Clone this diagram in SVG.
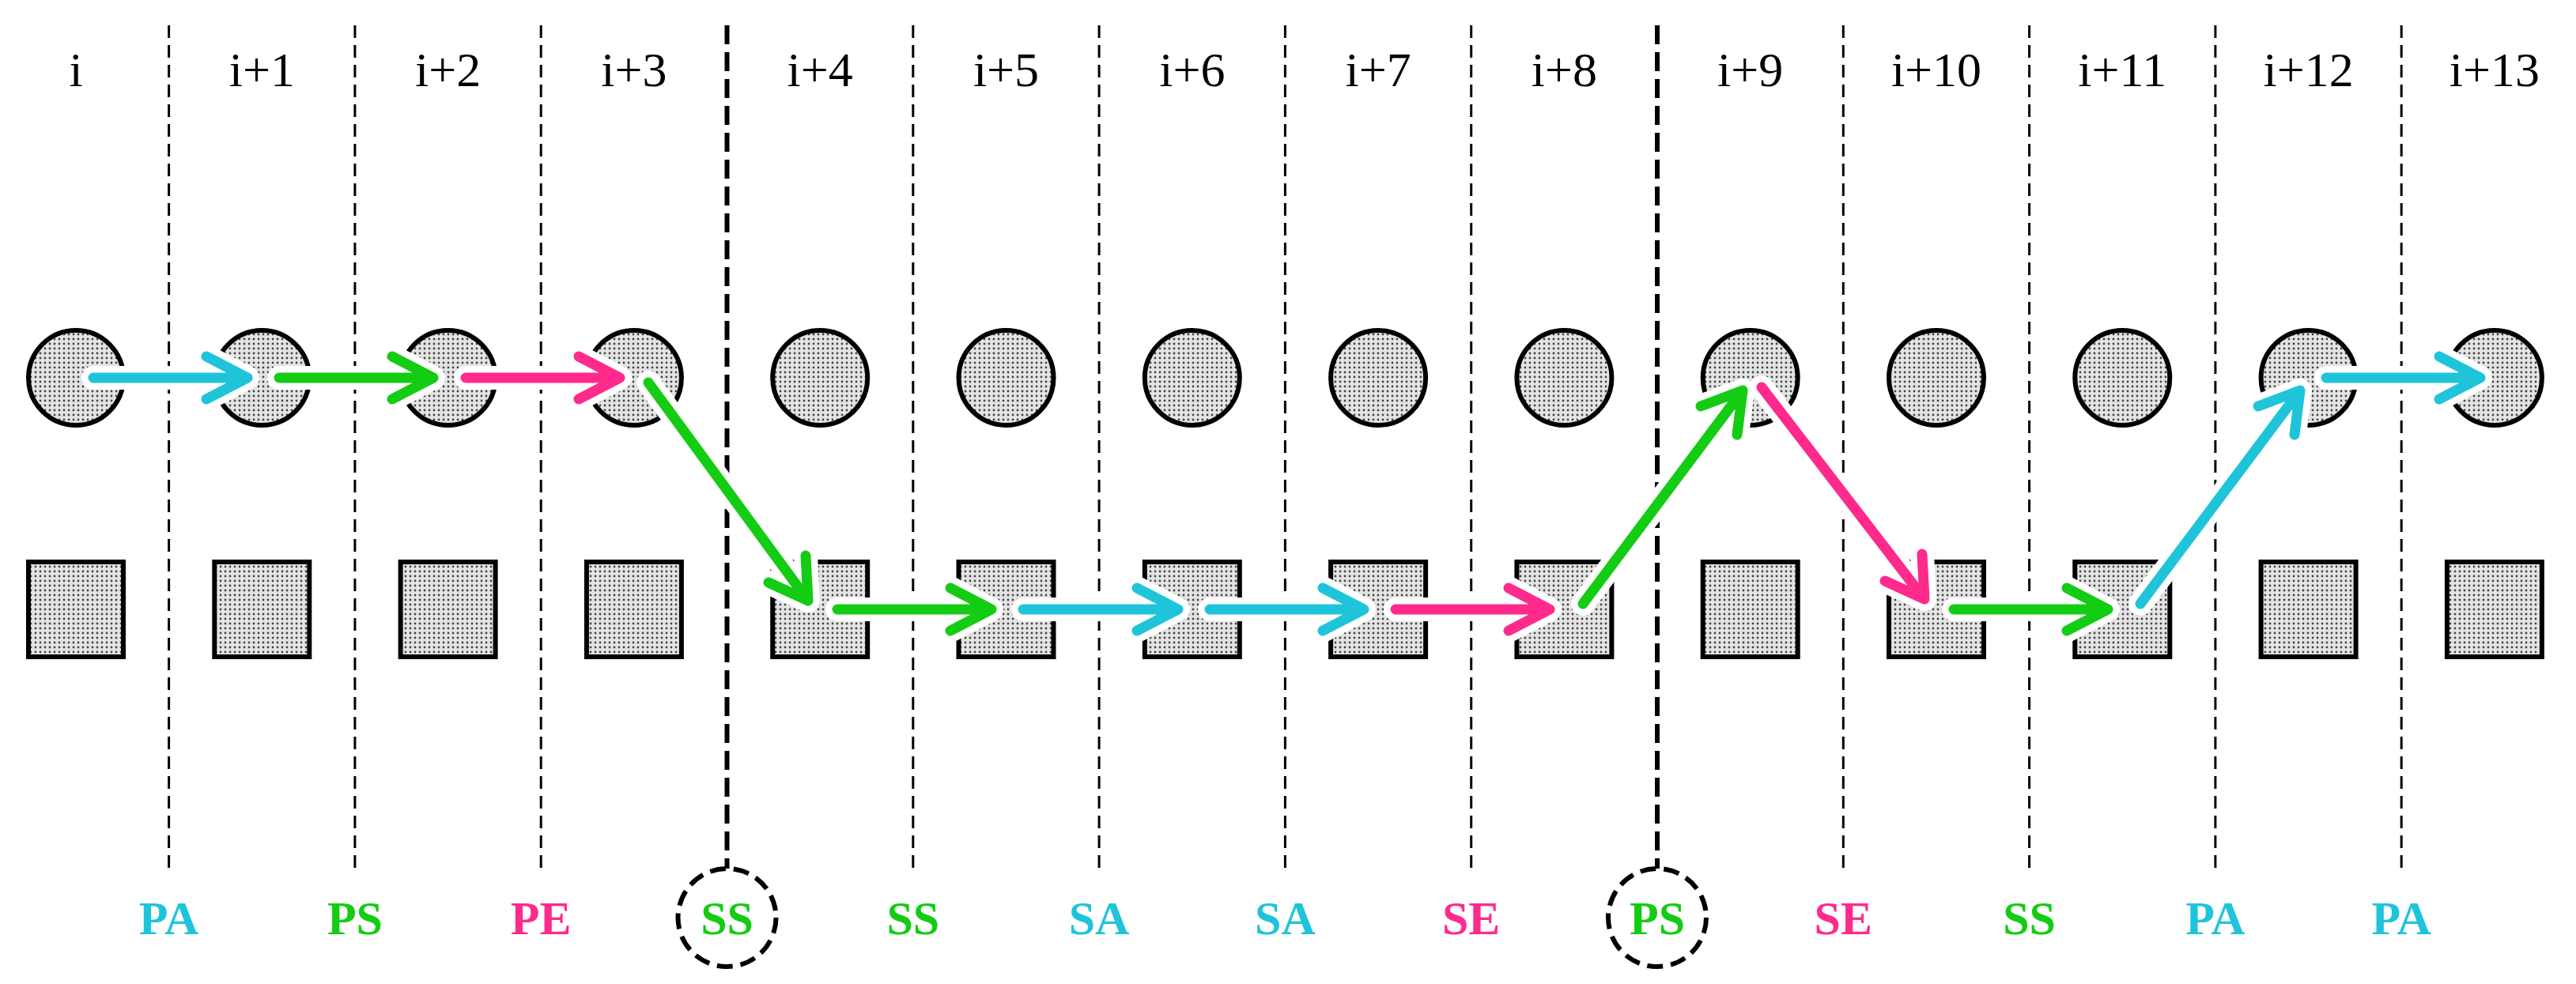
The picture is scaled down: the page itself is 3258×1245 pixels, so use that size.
<svg xmlns="http://www.w3.org/2000/svg" width="3258" height="1245" viewBox="0 0 3258 1245">
<defs>
<pattern id="dots" width="6" height="6" patternUnits="userSpaceOnUse">
<rect width="6" height="6" fill="#e4e4e4"/>
<circle cx="3" cy="3" r="1.4" fill="#444"/>
</pattern>
<style>
.c{fill:url(#dots);stroke:#000;stroke-width:6}
.thin{stroke:#000;stroke-width:3;stroke-dasharray:16 9}
.thick{stroke:#000;stroke-width:6;stroke-dasharray:24 10}
.top{font-family:"Liberation Serif",serif;font-size:62px;text-anchor:middle;fill:#000}
.lab{font-family:"Liberation Serif",serif;font-size:60px;font-weight:bold;text-anchor:middle}
.halo{fill:none;stroke:#fff;stroke-width:30;stroke-linecap:round;stroke-linejoin:round}
.ln{fill:none;stroke-width:13;stroke-linecap:round;stroke-linejoin:round}
.cy{stroke:#1fc4da}.gr{stroke:#14cc14}.pk{stroke:#ff2a8c}
</style>
</defs>
<rect width="3258" height="1245" fill="#fff"/>
<g id="dividers">
<line class="thin" x1="213.6" y1="32" x2="213.6" y2="1107"/>
<line class="thin" x1="448.9" y1="32" x2="448.9" y2="1107"/>
<line class="thin" x1="684.2" y1="32" x2="684.2" y2="1107"/>
<line class="thick" x1="919.5" y1="32" x2="919.5" y2="1099"/>
<line class="thin" x1="1154.8" y1="32" x2="1154.8" y2="1107"/>
<line class="thin" x1="1390.1" y1="32" x2="1390.1" y2="1107"/>
<line class="thin" x1="1625.4" y1="32" x2="1625.4" y2="1107"/>
<line class="thin" x1="1860.7" y1="32" x2="1860.7" y2="1107"/>
<line class="thick" x1="2096" y1="32" x2="2096" y2="1099"/>
<line class="thin" x1="2331.3" y1="32" x2="2331.3" y2="1107"/>
<line class="thin" x1="2566.6" y1="32" x2="2566.6" y2="1107"/>
<line class="thin" x1="2801.9" y1="32" x2="2801.9" y2="1107"/>
<line class="thin" x1="3037.2" y1="32" x2="3037.2" y2="1107"/>
</g>
<g id="headers">
<text class="top" x="96" y="109">i</text>
<text class="top" x="331.3" y="109">i+1</text>
<text class="top" x="566.6" y="109">i+2</text>
<text class="top" x="801.9" y="109">i+3</text>
<text class="top" x="1037.2" y="109">i+4</text>
<text class="top" x="1272.5" y="109">i+5</text>
<text class="top" x="1507.8" y="109">i+6</text>
<text class="top" x="1743.1" y="109">i+7</text>
<text class="top" x="1978.4" y="109">i+8</text>
<text class="top" x="2213.7" y="109">i+9</text>
<text class="top" x="2449" y="109">i+10</text>
<text class="top" x="2684.3" y="109">i+11</text>
<text class="top" x="2919.6" y="109">i+12</text>
<text class="top" x="3154.9" y="109">i+13</text>
</g>
<g id="circles">
<circle class="c" cx="96" cy="478" r="60"/>
<circle class="c" cx="331.3" cy="478" r="60"/>
<circle class="c" cx="566.6" cy="478" r="60"/>
<circle class="c" cx="801.9" cy="478" r="60"/>
<circle class="c" cx="1037.2" cy="478" r="60"/>
<circle class="c" cx="1272.5" cy="478" r="60"/>
<circle class="c" cx="1507.8" cy="478" r="60"/>
<circle class="c" cx="1743.1" cy="478" r="60"/>
<circle class="c" cx="1978.4" cy="478" r="60"/>
<circle class="c" cx="2213.7" cy="478" r="60"/>
<circle class="c" cx="2449" cy="478" r="60"/>
<circle class="c" cx="2684.3" cy="478" r="60"/>
<circle class="c" cx="2919.6" cy="478" r="60"/>
<circle class="c" cx="3154.9" cy="478" r="60"/>
</g>
<g id="squares">
<rect class="c" x="36" y="711" width="120" height="120"/>
<rect class="c" x="271.3" y="711" width="120" height="120"/>
<rect class="c" x="506.6" y="711" width="120" height="120"/>
<rect class="c" x="741.9" y="711" width="120" height="120"/>
<rect class="c" x="977.2" y="711" width="120" height="120"/>
<rect class="c" x="1212.5" y="711" width="120" height="120"/>
<rect class="c" x="1447.8" y="711" width="120" height="120"/>
<rect class="c" x="1683.1" y="711" width="120" height="120"/>
<rect class="c" x="1918.4" y="711" width="120" height="120"/>
<rect class="c" x="2153.7" y="711" width="120" height="120"/>
<rect class="c" x="2389" y="711" width="120" height="120"/>
<rect class="c" x="2624.3" y="711" width="120" height="120"/>
<rect class="c" x="2859.6" y="711" width="120" height="120"/>
<rect class="c" x="3094.9" y="711" width="120" height="120"/>
</g>
<g id="connectors">
<g><path class="halo" d="M118 478H313M261 451L313 478L261 505"/><path class="ln cy" d="M118 478H313M261 451L313 478L261 505"/></g>
<g><path class="halo" d="M353 478H548M496 451L548 478L496 505"/><path class="ln gr" d="M353 478H548M496 451L548 478L496 505"/></g>
<g><path class="halo" d="M589 478H784M732 451L784 478L732 505"/><path class="ln pk" d="M589 478H784M732 451L784 478L732 505"/></g>
<g><path class="halo" d="M820 484L1022 760M1019 703L1022 760L972 737"/><path class="ln gr" d="M820 484L1022 760M1019 703L1022 760L972 737"/></g>
<g><path class="halo" d="M1059 771H1254M1202 744L1254 771L1202 798"/><path class="ln gr" d="M1059 771H1254M1202 744L1254 771L1202 798"/></g>
<g><path class="halo" d="M1294 771H1490M1438 744L1490 771L1438 798"/><path class="ln cy" d="M1294 771H1490M1438 744L1490 771L1438 798"/></g>
<g><path class="halo" d="M1530 771H1725M1673 744L1725 771L1673 798"/><path class="ln cy" d="M1530 771H1725M1673 744L1725 771L1673 798"/></g>
<g><path class="halo" d="M1765 771H1960M1908 744L1960 771L1908 798"/><path class="ln pk" d="M1765 771H1960M1908 744L1960 771L1908 798"/></g>
<g><path class="halo" d="M2002 764L2204 494M2151 514L2204 494L2197 550"/><path class="ln gr" d="M2002 764L2204 494M2151 514L2204 494L2197 550"/></g>
<g><path class="halo" d="M2228 490L2434 758M2431 701L2434 758L2384 735"/><path class="ln pk" d="M2228 490L2434 758M2431 701L2434 758L2384 735"/></g>
<g><path class="halo" d="M2471 771H2666M2614 744L2666 771L2614 798"/><path class="ln gr" d="M2471 771H2666M2614 744L2666 771L2614 798"/></g>
<g><path class="halo" d="M2707 764L2909 494M2856 514L2909 494L2902 550"/><path class="ln cy" d="M2707 764L2909 494M2856 514L2909 494L2902 550"/></g>
<g><path class="halo" d="M2942 478H3137M3085 451L3137 478L3085 505"/><path class="ln cy" d="M2942 478H3137M3085 451L3137 478L3085 505"/></g>
</g>
<g id="labels">
<circle cx="919.5" cy="1161" r="62" fill="none" stroke="#000" stroke-width="6" stroke-dasharray="20 10"/>
<circle cx="2096" cy="1161" r="62" fill="none" stroke="#000" stroke-width="6" stroke-dasharray="20 10"/>
<text class="lab" x="213.6" y="1182" fill="#1fc4da">PA</text>
<text class="lab" x="448.9" y="1182" fill="#14cc14">PS</text>
<text class="lab" x="684.2" y="1182" fill="#ff2a8c">PE</text>
<text class="lab" x="919.5" y="1182" fill="#14cc14">SS</text>
<text class="lab" x="1154.8" y="1182" fill="#14cc14">SS</text>
<text class="lab" x="1390.1" y="1182" fill="#1fc4da">SA</text>
<text class="lab" x="1625.4" y="1182" fill="#1fc4da">SA</text>
<text class="lab" x="1860.7" y="1182" fill="#ff2a8c">SE</text>
<text class="lab" x="2096" y="1182" fill="#14cc14">PS</text>
<text class="lab" x="2331.3" y="1182" fill="#ff2a8c">SE</text>
<text class="lab" x="2566.6" y="1182" fill="#14cc14">SS</text>
<text class="lab" x="2801.9" y="1182" fill="#1fc4da">PA</text>
<text class="lab" x="3037.2" y="1182" fill="#1fc4da">PA</text>
</g>
</svg>
